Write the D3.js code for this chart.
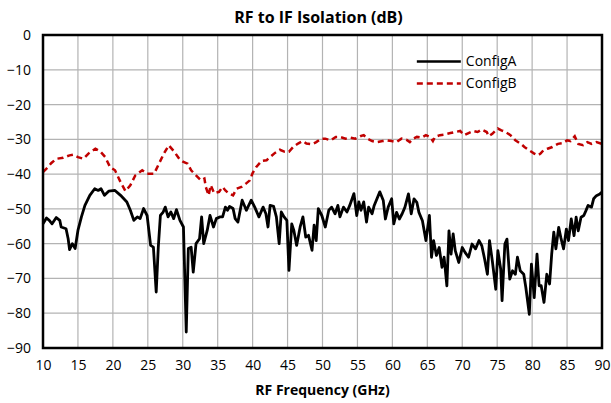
<!DOCTYPE html>
<html>
<head>
<meta charset="utf-8">
<script src="https://cdn.jsdelivr.net/npm/d3@7"></script>
<style>
  body { margin: 0; background: #fff; }
  svg text { font-family: "Open Sans", "Noto Sans", sans-serif; fill: #000; }
</style>
</head>
<body>
<div id="chart"></div>
<script>
const xTicks = [10, 15, 20, 25, 30, 35, 40, 45, 50, 55, 60, 65, 70, 75, 80, 85, 90];
const yTicks = [0, -10, -20, -30, -40, -50, -60, -70, -80, -90];

// ConfigA: [GHz, dB]
const configA = [
  [10, -54.3], [10.5, -52.6], [10.9, -53.3], [11.3, -54.3], [11.9, -52.5], [12.4, -53.3],
  [12.6, -55.2], [13.3, -55.7], [13.6, -58.6], [13.8, -61.7], [14.2, -60], [14.6, -61.4],
  [15, -56.2], [15.5, -52.3], [16, -49], [16.7, -46.1], [17.4, -44.2], [17.9, -44.7],
  [18.3, -44.2], [18.8, -46.1], [19.4, -44.9], [20.3, -44.7], [21.1, -46.1], [22, -48],
  [22.5, -50.4], [23, -53.3], [23.5, -52.3], [23.9, -52.8], [24.4, -49.9], [24.9, -51.9],
  [25.4, -60.5], [25.8, -61], [26.2, -73.9], [26.5, -61], [26.8, -51.9], [27.2, -50.9],
  [27.5, -49.5], [27.9, -52.3], [28.3, -50.9], [28.7, -52.8], [29.1, -50.2], [29.6, -53.3],
  [30.1, -55.2], [30.5, -85.4], [30.8, -61.4], [31.2, -61], [31.5, -68.2], [31.9, -60],
  [32.4, -58.6], [32.7, -52.3], [33, -60], [33.5, -56.2], [33.9, -51.9], [34.4, -55.2],
  [34.8, -52.8], [35.3, -52.3], [35.7, -52.3], [36.1, -49.5], [36.4, -50.4], [36.7, -49.3],
  [37.2, -49.9], [37.5, -52.8], [37.9, -53.8], [38.5, -47.5], [39.1, -50.4], [39.8, -47.5],
  [40.3, -49.5], [40.9, -52.3], [41.5, -49.5], [41.9, -51.4], [42.2, -55.2], [42.5, -49],
  [43, -49.3], [43.4, -52.3], [43.8, -60], [44.1, -50.9], [44.5, -52.3], [44.9, -53.3],
  [45.2, -67.7], [45.6, -54.3], [45.9, -56.2], [46.3, -60.5], [46.8, -55.2], [47.2, -52.3],
  [47.6, -58.1], [48, -57.6], [48.5, -61.9], [48.8, -54.7], [49.1, -59.1], [49.4, -49.9],
  [49.9, -51.9], [50.4, -55.2], [50.9, -50.4], [51.3, -49.5], [51.8, -51.4], [52.2, -49],
  [52.5, -52.3], [53, -49.5], [53.5, -50.9], [53.9, -49], [54.5, -45.6], [54.9, -51.9],
  [55.2, -48], [55.5, -50.4], [55.9, -48], [56.3, -53.8], [56.6, -49.5], [57.1, -51.4],
  [57.4, -49], [58.2, -45.1], [58.7, -47.6], [59, -52.9], [59.4, -49.5], [59.9, -47.1],
  [60.2, -54.3], [60.6, -51], [61, -52.9], [61.4, -51.4], [61.8, -49.5], [62.3, -45.7],
  [62.7, -51.4], [63.1, -47.1], [63.5, -48.1], [63.8, -51], [64.3, -53.4], [64.8, -59.1],
  [65.3, -51.9], [65.6, -63.9], [65.9, -59.1], [66.3, -63.4], [66.7, -61.1], [67.1, -66.8],
  [67.4, -63.9], [67.8, -72.1], [68.1, -56.3], [68.4, -63], [68.7, -57.2], [69, -62],
  [69.5, -65.4], [70, -61.1], [70.4, -62.5], [70.9, -63.9], [71.4, -60.1], [71.9, -61.5],
  [72.4, -59.1], [72.8, -60.6], [73.2, -64.4], [73.6, -68.8], [73.9, -59.1], [74.3, -64.9],
  [74.8, -73.1], [75.1, -62], [75.5, -67.3], [75.7, -76.4], [76.1, -60.1], [76.4, -58.7],
  [76.8, -70.2], [77.2, -67.8], [77.6, -68.8], [77.9, -63.9], [78.3, -67.8], [78.8, -68.8],
  [79.1, -72.6], [79.6, -80.3], [79.9, -65.9], [80.3, -75.5], [80.7, -63], [81, -72.1],
  [81.3, -72.1], [81.7, -76.9], [82.1, -68.8], [82.5, -71.6], [82.8, -63], [83.1, -56.7],
  [83.4, -61.5], [83.8, -55.3], [84.1, -58.2], [84.5, -61.5], [84.9, -55.8], [85.2, -59.1],
  [85.6, -52.9], [86, -57.7], [86.3, -52.4], [86.6, -56.3], [87, -52.4], [87.4, -51.9],
  [87.7, -50.5], [88, -49], [88.5, -49.5], [88.8, -47.1], [89.2, -46.2], [89.7, -45.7],
  [90, -45.2]
];

// ConfigB: [GHz, dB]
const configB = [
  [10, -39.4], [10.7, -38], [11.2, -36.8], [11.9, -35.6], [12.9, -35.3], [13.8, -34.6],
  [14.3, -34.4], [15, -35.1], [15.8, -35.6], [16.5, -34.1], [17.5, -32.7], [18.2, -33.5],
  [18.9, -35.1], [19.6, -38], [20.3, -38.9], [21.1, -42.3], [21.8, -44.9], [22.5, -43.2],
  [23.2, -40.4], [24.2, -38.9], [24.9, -39.9], [25.9, -39.9], [26.6, -37], [27.3, -34.1],
  [28, -31.7], [28.8, -33.6], [29.5, -35.6], [30.1, -36.5], [30.7, -37], [31.2, -38.9],
  [31.9, -40.4], [32.6, -41.8], [33.1, -41.3], [33.3, -43.7], [33.7, -46.1], [34, -43.2],
  [34.5, -45.5], [35.2, -45.1], [35.7, -43.7], [36.1, -44.7], [36.6, -45.6], [37.2, -46.1],
  [37.7, -44.2], [38.4, -43.7], [39, -42.8], [39.6, -41.8], [40, -39.7], [40.5, -38],
  [41.3, -36.2], [42, -36], [42.5, -35.1], [43.2, -33.9], [43.9, -33], [44.6, -33.6],
  [45.2, -33.6], [45.8, -32.2], [46.5, -31.2], [47.2, -30.5], [47.7, -31.2], [48.5, -31.4],
  [49.1, -30.8], [49.8, -29.8], [50.4, -29.8], [51.2, -30.3], [51.9, -29.3], [52.5, -29.3],
  [53.3, -29.8], [54, -29.5], [54.7, -29.8], [55.4, -29.1], [55.9, -28.8], [56.4, -29.8],
  [57.1, -30.5], [57.8, -30.8], [58.6, -30.5], [59.3, -30.3], [59.9, -30.5], [60.6, -30.8],
  [61.3, -29.8], [62, -30.1], [62.5, -30.8], [63, -29.8], [63.5, -29.3], [64.2, -29.5],
  [64.8, -28.8], [65.4, -29.3], [65.8, -30.5], [66.1, -29.3], [66.8, -28.8], [67.5, -28.6],
  [68.3, -28.2], [69, -27.9], [69.7, -27.6], [70.3, -28.8], [70.9, -28.2], [71.6, -27.6],
  [72.2, -27.9], [72.8, -27.2], [73.5, -27.9], [73.8, -29.1], [74.3, -28.4], [74.8, -27.4],
  [75.1, -26.9], [75.6, -27.4], [76.2, -27.9], [76.9, -28.8], [77.6, -30.3], [78.4, -31.3],
  [78.9, -32.2], [79.6, -33.2], [80.3, -34.1], [80.8, -34.6], [81.2, -34.1], [81.6, -33.2],
  [82.2, -32.7], [82.9, -32.2], [83.7, -31.3], [84.4, -31.1], [85, -30.3], [85.5, -30.5],
  [86.1, -29.1], [86.6, -31.3], [87.3, -31.7], [87.9, -30.8], [88.5, -31.3], [89.2, -30.8],
  [90, -31.3]
];

const W = 611, H = 403;
const margin = { top: 35, right: 9, bottom: 55, left: 43 };
const width = W - margin.left - margin.right;
const height = H - margin.top - margin.bottom;

const svg = d3.select("#chart")
    .append("svg")
    .attr("width", W)
    .attr("height", H)
    .append("g")
    .attr("transform", `translate(${margin.left}, ${margin.top})`);

const x = d3.scaleLinear().domain([10, 90]).range([0, width]);
const y = d3.scaleLinear().domain([-90, 0]).range([height, 0]);

// gridlines
svg.append("g")
    .selectAll("line.vg")
    .data(xTicks)
    .enter().append("line")
    .attr("x1", d => x(d)).attr("x2", d => x(d))
    .attr("y1", 0).attr("y2", height)
    .attr("stroke", "#b3b3b3")
    .attr("stroke-width", 1.2);

svg.append("g")
    .selectAll("line.hg")
    .data(yTicks)
    .enter().append("line")
    .attr("x1", 0).attr("x2", width)
    .attr("y1", d => y(d)).attr("y2", d => y(d))
    .attr("stroke", "#b3b3b3")
    .attr("stroke-width", 1.2);

// axes (labels only)
const xAxis = svg.append("g")
    .attr("transform", `translate(0, ${height})`)
    .call(d3.axisBottom(x).tickValues(xTicks).tickSize(0).tickPadding(12));
xAxis.select(".domain").remove();
xAxis.selectAll("text").style("font-size", "14px").attr("font-family", null);

const yAxis = svg.append("g")
    .call(d3.axisLeft(y).tickValues(yTicks).tickSize(0).tickPadding(12));
yAxis.select(".domain").remove();
yAxis.selectAll("text").style("font-size", "14px").attr("font-family", null);

// lines
const line = d3.line()
    .x(d => x(d[0]))
    .y(d => y(d[1]));

svg.append("path")
    .datum(configB)
    .attr("fill", "none")
    .attr("stroke", "#c00000")
    .attr("stroke-width", 2.5)
    .attr("stroke-dasharray", "6,4")
    .attr("d", line);

svg.append("path")
    .datum(configA)
    .attr("fill", "none")
    .attr("stroke", "#000")
    .attr("stroke-width", 2.8)
    .attr("stroke-linejoin", "round")
    .attr("d", line);

// plot border
svg.append("rect")
    .attr("x", 0).attr("y", 0)
    .attr("width", width).attr("height", height)
    .attr("fill", "none")
    .attr("stroke", "#000")
    .attr("stroke-width", 2.5);

// legend
const legend = svg.append("g").attr("transform", `translate(${x(63.5)}, ${y(-7.6)})`);
const legendItems = [
    { name: "ConfigA", color: "#000", dash: null },
    { name: "ConfigB", color: "#c00000", dash: "6,4" }
];
legendItems.forEach((d, i) => {
    const g = legend.append("g").attr("transform", `translate(0, ${i * 22})`);
    g.append("line")
        .attr("x1", 0).attr("x2", 44)
        .attr("y1", 0).attr("y2", 0)
        .attr("stroke", d.color)
        .attr("stroke-width", 2.5)
        .attr("stroke-dasharray", d.dash);
    g.append("text")
        .attr("x", 49).attr("y", 0)
        .attr("dy", "0.35em")
        .style("font-size", "14px")
        .text(d.name);
});

// titles
svg.append("text")
    .attr("x", width / 2 - 4)
    .attr("y", -12)
    .attr("text-anchor", "middle")
    .style("font-size", "16px")
    .style("font-weight", "bold")
    .text("RF to IF Isolation (dB)");

svg.append("text")
    .attr("x", width / 2)
    .attr("y", height + 47)
    .attr("text-anchor", "middle")
    .style("font-size", "14px")
    .style("font-weight", "bold")
    .text("RF Frequency (GHz)");
</script>
</body>
</html>
